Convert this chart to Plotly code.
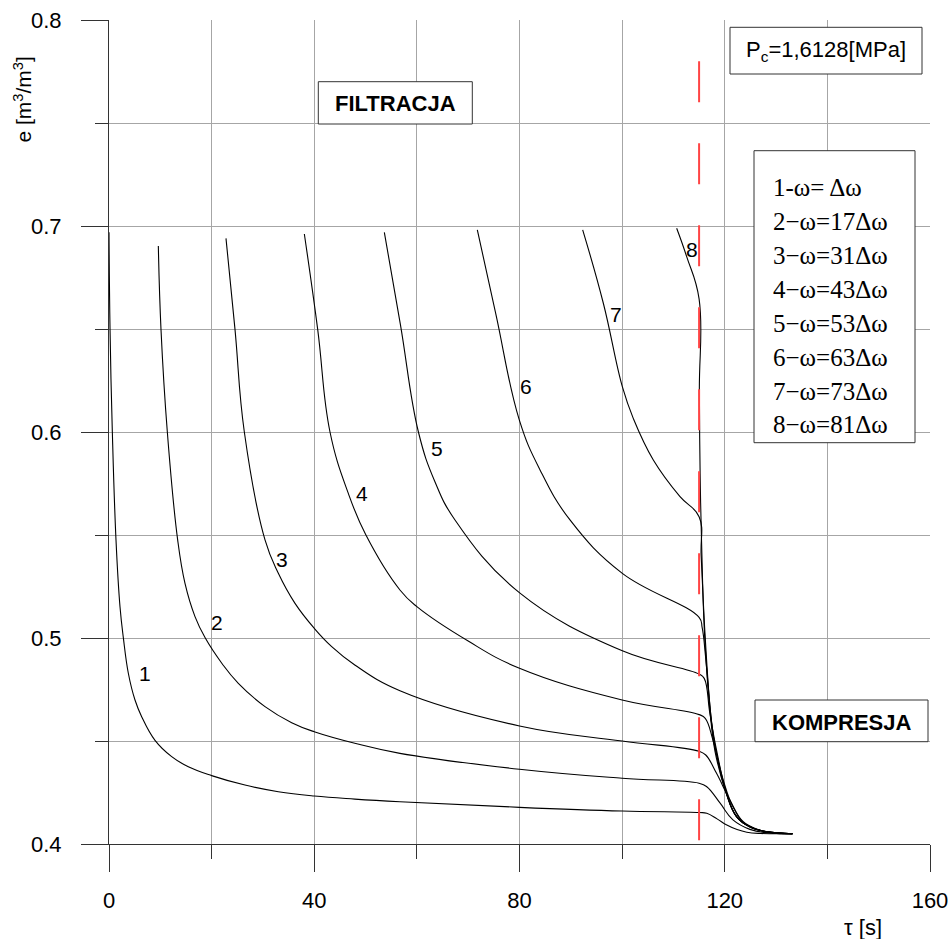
import plotly.graph_objects as go

# ---------------- data ----------------
tau1 = [0, 0.2, 0.65, 1.364, 2.144, 2.793, 3.767, 5.067, 6.367, 8.965, 12.213, 15.461, 20.0, 26.5, 33.0, 40.0, 47.9, 56.7, 80, 100, 115,
        116.5, 118.5, 120.4, 122.4, 124.3, 127, 133.2]
e1 = [0.697, 0.65, 0.60, 0.5476, 0.5152, 0.5002, 0.4829, 0.4699, 0.4618, 0.4503, 0.4424, 0.4375, 0.4332, 0.4286, 0.4254, 0.4233, 0.4218, 0.4205, 0.4178, 0.4160, 0.4153,
      0.4149, 0.4122, 0.4092, 0.4070, 0.4057, 0.4051, 0.4050]

tau2 = [9.614, 10.134, 11.368, 13.383, 14.812, 16.761, 18.71, 22.087, 25.205, 30.403, 35.6, 40.0, 47.9, 56.7, 80, 100, 115,
        116.5, 119.1, 121.6, 124.9, 128.1, 133.2]
e2 = [0.6903, 0.6498, 0.60, 0.5476, 0.5265, 0.5104, 0.5002, 0.4874, 0.4780, 0.4667, 0.4589, 0.4545, 0.4489, 0.4440, 0.4363, 0.4319, 0.4295,
      0.4278, 0.4198, 0.4117, 0.4071, 0.4055, 0.4050]

tau3 = [22.8, 24.556, 26.374, 30.403, 33.0, 36.25, 40.0, 43.4, 47.9, 56.7, 80, 100, 115,
        116.3, 118.4, 121, 123.6, 126.8, 129.5, 133.2]
e3 = [0.694, 0.6498, 0.60, 0.5476, 0.5314, 0.5168, 0.5047, 0.4958, 0.4869, 0.4744, 0.4573, 0.4500, 0.4450,
      0.4432, 0.4343, 0.4214, 0.4108, 0.4068, 0.4053, 0.4050]

tau4 = [38.07, 40.67, 43.07, 46.64, 50.02, 56.7, 60, 70, 80, 100, 115,
        116.2, 117.7, 119.7, 121.6, 124.2, 128.1, 133.2]
e4 = [0.6961, 0.6498, 0.60, 0.5702, 0.5502, 0.5233, 0.5152, 0.4985, 0.4853, 0.4699, 0.4628,
      0.4610, 0.4505, 0.4311, 0.4181, 0.4092, 0.4060, 0.4050]

tau5 = [53.66, 56.8, 60.3, 63.5, 67.43, 79.97, 100.04, 115,
        116.0, 117.1, 118.4, 120.35, 122.3, 124.9, 128.1, 133.2]
e5 = [0.6969, 0.652, 0.60, 0.576, 0.5573, 0.5220, 0.4938, 0.4825,
      0.4804, 0.4634, 0.4456, 0.4246, 0.4133, 0.4084, 0.4060, 0.4050]

tau6 = [71.78, 75.36, 79.97, 84.0, 89.84, 100.04, 115,
        115.6, 116.3, 117.4, 118.3, 120.35, 122.3, 124.9, 128.1, 133.2]
e6 = [0.6981, 0.6576, 0.6058, 0.5816, 0.5573, 0.5314, 0.5100,
      0.505, 0.49, 0.46, 0.445, 0.4246, 0.4133, 0.4084, 0.4060, 0.4050]

tau7 = [92.31, 96.34, 100.04, 102.19, 106.08, 111.28, 115,
        115.4, 116.2, 117.3, 118.2, 120.3, 122.3, 124.9, 128.1, 133.2]
e7 = [0.6981, 0.6625, 0.622, 0.6065, 0.5864, 0.5686, 0.5589,
      0.54, 0.50, 0.462, 0.446, 0.4246, 0.4133, 0.4084, 0.4060, 0.4050]

tau8 = [110.63, 112.58, 115, 115.05, 115.2, 115.45, 116.1, 117.3, 118.1, 120.3, 122.3, 124.9, 128.1, 133.2]
e8 = [0.6989, 0.6851, 0.6646, 0.62, 0.58, 0.55, 0.50, 0.46, 0.445, 0.4246, 0.4133, 0.4084, 0.4060, 0.4050]

curve_tau = [tau1, tau2, tau3, tau4, tau5, tau6, tau7, tau8]
curve_e = [e1, e2, e3, e4, e5, e6, e7, e8]
curve_names = ["1", "2", "3", "4", "5", "6", "7", "8"]
label_tau = [7.0, 21.1, 33.65, 49.3, 63.85, 81.2, 98.8, 113.7]
label_e = [0.483, 0.5076, 0.538, 0.5702, 0.5919, 0.6219, 0.6568, 0.6884]

compression_tau = [115, 115]
compression_e = [0.78, 0.40]

legend_lines = ["1-ω= Δω", "2−ω=17Δω", "3−ω=31Δω", "4−ω=43Δω",
                "5−ω=53Δω", "6−ω=63Δω", "7−ω=73Δω", "8−ω=81Δω"]

x_ticks = [0, 40, 80, 120, 160]
y_ticks = [0.4, 0.5, 0.6, 0.7, 0.8]

# ---------------- figure ----------------
W, H = 951, 939
L, T = 109, 20
R = W - L - 821
B = H - T - 824
SANS = "Liberation Sans, Arial, sans-serif"
SERIF = "Liberation Serif, Times New Roman, serif"

def px2x(px):
    return (px - L) / 821.0

def py2y(py):
    return (H - B - py) / 824.0

fig = go.Figure()
for t, e, n in zip(curve_tau, curve_e, curve_names):
    fig.add_trace(go.Scatter(x=t, y=e, mode="lines", name=n,
                             line=dict(color="black", width=1.1, shape="spline", smoothing=1.2),
                             hoverinfo="skip", showlegend=False))

fig.add_trace(go.Scatter(x=compression_tau, y=compression_e, mode="lines",
                         line=dict(color="#ff4444", width=2, dash="41px,41px"),
                         hoverinfo="skip", showlegend=False))

for n, tx, ey in zip(curve_names, label_tau, label_e):
    fig.add_annotation(x=tx, y=ey, text=n, showarrow=False, xanchor="center", yanchor="middle",
                       font=dict(family=SANS, size=21, color="black"))

def box(x0, x1, y0, y1):
    fig.add_shape(type="rect", xref="paper", yref="paper",
                  x0=px2x(x0), x1=px2x(x1), y0=py2y(y1), y1=py2y(y0),
                  line=dict(color="#333333", width=1), fillcolor="white", layer="above")

def text(px, py, s, size, family=SANS, xanchor="center", angle=0):
    fig.add_annotation(xref="paper", yref="paper", x=px2x(px), y=py2y(py),
                       text=s, showarrow=False, xanchor=xanchor, yanchor="middle",
                       textangle=angle, font=dict(family=family, size=size, color="black"))

# FILTRACJA
box(318.3, 472.3, 81.7, 124)
text(395.3, 104, "<b>FILTRACJA</b>", 22)
# KOMPRESJA
box(755, 928, 700, 741.7)
text(841.5, 722, "<b>KOMPRESJA</b>", 22)
# Pc
box(730, 922, 27.3, 74)
text(826, 51, "P<sub>c</sub>=1,6128[MPa]", 22)
# legend
box(754, 915, 150.7, 442.7)
line_y = [187.5, 221.5, 255.5, 289.5, 323, 357, 391, 424.5]
for txt, yy in zip(legend_lines, line_y):
    text(771, yy, txt, 25, family=SERIF, xanchor="left")

# axis titles
text(22.5, 100, "e [m<sup>3</sup>/m<sup>3</sup>]", 21, angle=-90)
text(863, 927, "τ [s]", 22)

GRID = "#a6a6a6"
AX = "#333333"
common = dict(ticks="outside", ticklen=27, tickcolor=AX, tickwidth=1,
              showline=True, linecolor=AX, linewidth=1, zeroline=False,
              showgrid=True, gridcolor=GRID, gridwidth=1,
              ticklabeloverflow="allow",
              tickfont=dict(family=SANS, size=22, color="black"))
fig.update_xaxes(range=[0, 160], tickmode="array", tickvals=x_ticks,
                 ticktext=[str(v) for v in x_ticks], ticklabelstandoff=10,
                 minor=dict(tickmode="linear", tick0=0, dtick=20, ticks="outside", ticklen=14,
                            tickcolor=AX, showgrid=True, gridcolor=GRID, gridwidth=1),
                 **common)
fig.update_yaxes(range=[0.4, 0.8], tickmode="array", tickvals=y_ticks,
                 ticktext=["%.1f" % v for v in y_ticks], ticklabelstandoff=15,
                 minor=dict(tickmode="linear", tick0=0.4, dtick=0.05, ticks="outside", ticklen=13,
                            tickcolor=AX, showgrid=True, gridcolor=GRID, gridwidth=1),
                 **common)

fig.update_layout(width=W, height=H, margin=dict(l=L, r=R, t=T, b=B, autoexpand=False),
                  plot_bgcolor="white", paper_bgcolor="white", showlegend=False)

fig.write_html("out.html", config={"displayModeBar": False},
               post_script="document.body.style.margin='0';"
                           "document.body.style.overflow='hidden';"
                           "document.documentElement.style.overflow='hidden';")
